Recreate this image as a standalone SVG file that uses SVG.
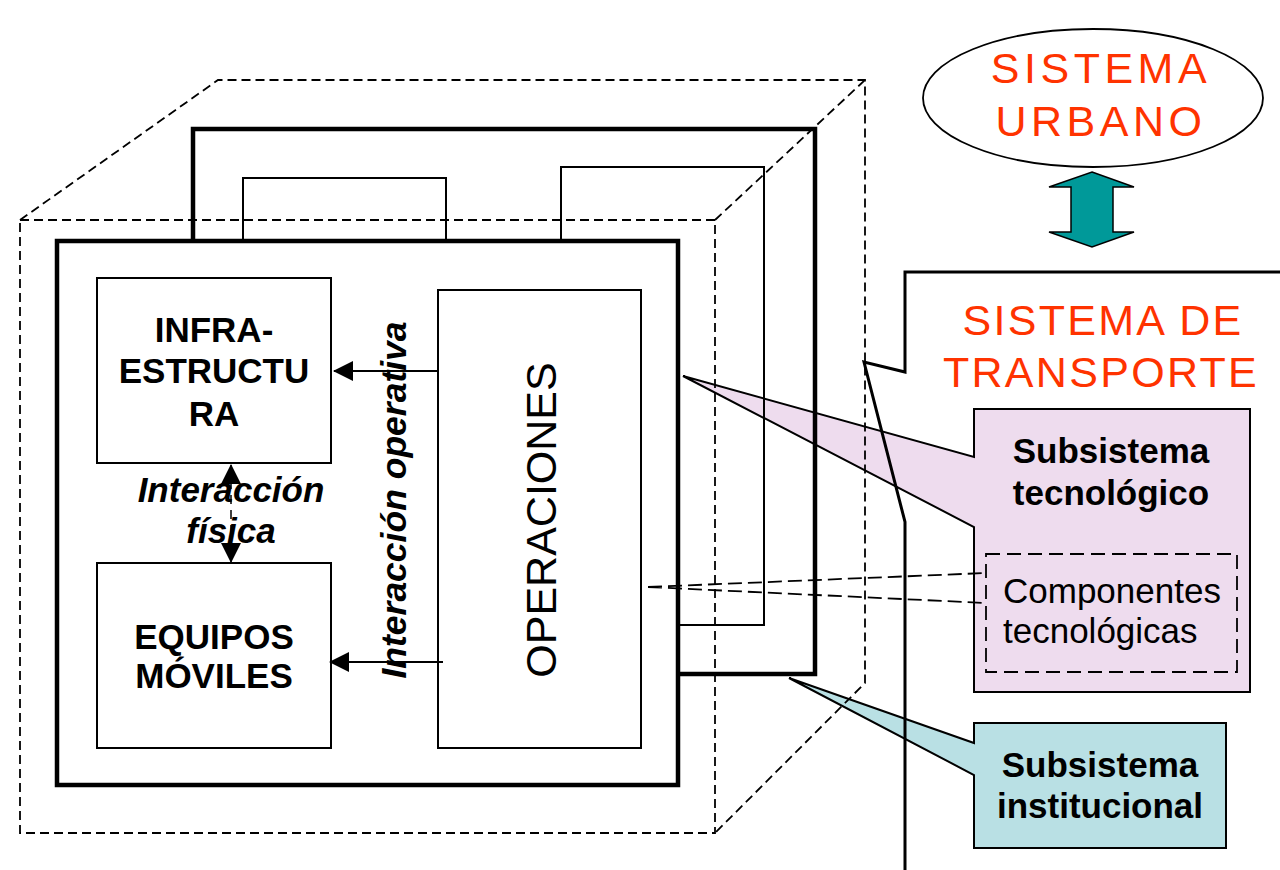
<svg xmlns="http://www.w3.org/2000/svg" width="1280" height="870" viewBox="0 0 1280 870">
  <defs>
    <style>
      .txt { font-family: "Liberation Sans", Arial, sans-serif; fill: #000; }
      .red { font-family: "Liberation Sans", Arial, sans-serif; fill: #FF3300; font-size: 43px; letter-spacing: 4.5px; text-anchor: middle; }
      .bold { font-weight: bold; }
      .mid { text-anchor: middle; }
      .dash { fill: none; stroke: #000; stroke-width: 1.8; stroke-dasharray: 9 5; }
      .thick { fill: none; stroke: #000; stroke-width: 4.5; }
      .thin { fill: none; stroke: #000; stroke-width: 2; }
      .conn { fill: none; stroke: #000; stroke-width: 1.8; }
    </style>
    <marker id="head" viewBox="0 0 20 20" refX="19" refY="10" markerWidth="20" markerHeight="20" markerUnits="userSpaceOnUse" orient="auto-start-reverse">
      <path d="M0,0 L20,10 L0,20 Z" fill="#000"/>
    </marker>
  </defs>

  <rect width="1280" height="870" fill="#fff"/>

  <!-- callout bodies (drawn first so structure lines cross over the pointers) -->
  <g id="callout-tecnologico-shape">
    <path d="M974,409 L1250,409 L1250,692 L974,692 L974,527 L683,376 L974,457 Z" fill="#EEDCEE" stroke="#000" stroke-width="2" stroke-linejoin="miter"/>
  </g>
  <g id="callout-institucional-shape">
    <path d="M974,723 L1226,723 L1226,848 L974,848 L974,775 L789,678 L974,743 Z" fill="#B9E0E4" stroke="#000" stroke-width="2"/>
  </g>

  <!-- dashed cube around the system -->
  <g id="cube">
    <rect class="dash" x="20" y="220" width="695" height="613"/>
    <path class="dash" d="M20,220 L218,80 L865,80 L865,683 L715,833 M715,220 L865,80"/>
  </g>

  <!-- stacked layers behind the front frame -->
  <g id="back-layers">
    <rect class="thick" x="193" y="129" width="622" height="545"/>
    <rect class="thin" x="243" y="178" width="203" height="90"/>
    <rect class="thin" x="561" y="167" width="203" height="458"/>
  </g>

  <!-- front frame -->
  <g id="front-frame">
    <rect x="57" y="241" width="621" height="544" fill="#fff" stroke="#000" stroke-width="4.5"/>
  </g>

  <g id="infraestructura">
    <rect class="thin" x="97" y="278" width="234" height="185" fill="#fff"/>
    <text class="txt bold mid" font-size="35" x="214" y="342">INFRA-</text>
    <text class="txt bold mid" font-size="35" x="214" y="383">ESTRUCTU</text>
    <text class="txt bold mid" font-size="35" x="214" y="426">RA</text>
  </g>

  <g id="equipos">
    <rect class="thin" x="97" y="563" width="234" height="185" fill="#fff"/>
    <text class="txt bold mid" font-size="35" x="214" y="649">EQUIPOS</text>
    <text class="txt bold mid" font-size="35" x="214" y="688">MÓVILES</text>
  </g>

  <g id="operaciones">
    <rect class="thin" x="438" y="290" width="203" height="458" fill="#fff"/>
    <text class="txt mid" font-size="43" transform="translate(556,520) rotate(-90)">OPERACIONES</text>
  </g>

  <!-- connectors -->
  <g id="connectors">
    <line class="conn" x1="437" y1="371" x2="334" y2="371" marker-end="url(#head)"/>
    <line class="conn" x1="443" y1="662" x2="330" y2="662" marker-end="url(#head)"/>
    <line x1="231" y1="465" x2="231" y2="562" stroke="#000" stroke-width="1.5" stroke-dasharray="9 6" marker-start="url(#head)" marker-end="url(#head)"/>
    <path d="M648,587 L986,573 M648,587 L986,603" fill="none" stroke="#000" stroke-width="1.8" stroke-dasharray="14 6"/>
  </g>

  <g id="labels-interaccion">
    <text class="txt bold mid" font-size="35" font-style="italic" x="231" y="502">Interacción</text>
    <text class="txt bold mid" font-size="35" font-style="italic" x="231" y="543">física</text>
    <text class="txt bold mid" font-size="35.5" font-style="italic" transform="translate(406,500) rotate(-90)">Interacción operativa</text>
  </g>

  <!-- transport system boundary -->
  <g id="sistema-transporte">
    <path d="M1280,272 L905,272 L905,372 L864,362 L905,522 L905,870" fill="none" stroke="#000" stroke-width="3"/>
    <text class="red" font-size="45" style="letter-spacing:2.3px" x="1103" y="335">SISTEMA DE</text>
    <text class="red" font-size="45" style="letter-spacing:2.3px" x="1101" y="387">TRANSPORTE</text>
  </g>

  <g id="sistema-urbano">
    <ellipse cx="1093" cy="98" rx="170" ry="69" fill="#fff" stroke="#000" stroke-width="1.8"/>
    <text class="red" x="1101" y="83">SISTEMA</text>
    <text class="red" x="1101" y="136">URBANO</text>
  </g>

  <g id="urbano-transporte-link">
    <polygon points="1092,172 1134,187 1113,187 1113,232 1134,232 1092,247 1049,232 1071,232 1071,187 1049,187" fill="#009999" stroke="#000" stroke-width="1.5" stroke-linejoin="miter"/>
  </g>

  <g id="subsistema-tecnologico">
    <text class="txt bold mid" font-size="35" x="1111" y="463">Subsistema</text>
    <text class="txt bold mid" font-size="35" x="1111" y="505">tecnológico</text>
    <rect x="986" y="554" width="251" height="118" fill="none" stroke="#000" stroke-width="1.8" stroke-dasharray="14 7"/>
    <text class="txt" font-size="35" x="1003" y="603">Componentes</text>
    <text class="txt" font-size="35" x="1003" y="643">tecnológicas</text>
  </g>

  <g id="subsistema-institucional">
    <text class="txt bold mid" font-size="35" x="1100" y="777">Subsistema</text>
    <text class="txt bold mid" font-size="35" x="1100" y="818">institucional</text>
  </g>
</svg>
